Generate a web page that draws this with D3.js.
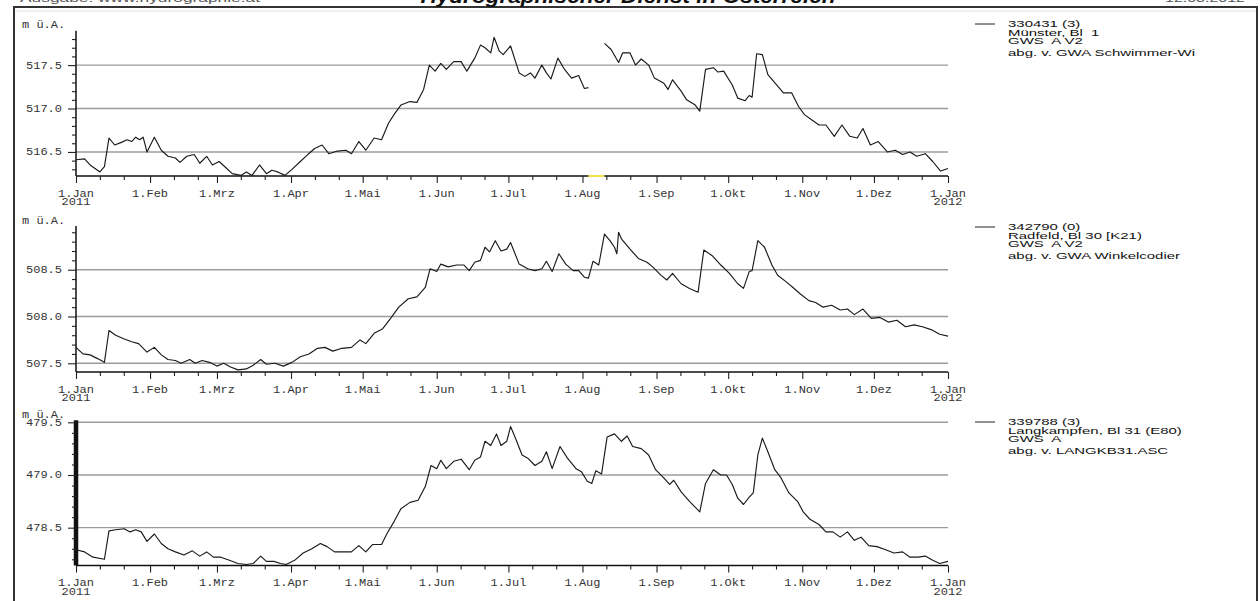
<!DOCTYPE html>
<html>
<head>
<meta charset="utf-8">
<script src="https://cdn.jsdelivr.net/npm/d3@7/dist/d3.min.js"></script>
<style>
  body { margin: 0; background: #fff; }
  svg { display: block; }
  text { white-space: pre; }
</style>
</head>
<body>
<svg id="chart" width="1260" height="601"></svg>
<script>
// Groundwater levels 2011 (m ü.A.), three wells; day = days since 1 Jan 2011
const monthLabels = ["1.Jan", "1.Feb", "1.Mrz", "1.Apr", "1.Mai", "1.Jun", "1.Jul",
                     "1.Aug", "1.Sep", "1.Okt", "1.Nov", "1.Dez", "1.Jan"];
const startYearLabel = "2011";
const endYearLabel = "2012";
const unitLabel = "m ü.A.";

const muensterLegend = ["330431 (3)", "Münster, Bl  1", "GWS  A V2", "abg. v. GWA Schwimmer-Wi"];
const muensterDays = [0,3.6,5.9,10,11.9,13.8,16.2,19,21.4,23.3,25,26.6,28.1,29.7,32.8,35.7,38.5,41.6,43.5,46.4,49.5,51.8,54.7,57.1,59.9,62.3,65.4,69,71.3,73.7,76.8,79.7,82,84.4,87.5,90.4,93.9,97,99.9,103,105.8,109.4,113,115.3,118.4,121.3,124.8,127.9,130.8,133.6,136,139.8,142.7,145.5,147.9,150.3,152.7,155,158.1,161.2,163.6,166.9,169.3,171.2,173.6,175,177.2,178.8,181.9,185.5,187.9,190.2,192.1,195,196.9,198.8,201.7,204.5,207.4,210.4,212.8,214.5,218,221.2,224,227.1,228.8,231.9,234.2,236.6,239.7,242.1,246.1,247.8,249.7,253.3,255.6,259.2,261.1,263.5,266.8,268.7,271.1,274.7,277,280.1,281.8,283,284.9,287.3,289.6,293,296.1,299.6,302.5,304.9,307.9,311,313.9,317.4,320.6,323.9,327,329.4,332.5,335.8,339.6,342.9,346,349.1,351.9,355.5,358.6,361.9,365];
const muensterLevels = [516.41,516.42,516.35,516.27,516.33,516.66,516.58,516.61,516.64,516.62,516.67,516.64,516.67,516.50,516.67,516.52,516.45,516.43,516.38,516.45,516.47,516.37,516.45,516.35,516.39,516.33,516.25,516.23,516.27,516.23,516.35,516.25,516.29,516.27,516.23,516.30,516.39,516.47,516.54,516.58,516.48,516.51,516.52,516.48,516.62,516.52,516.66,516.64,516.83,516.95,517.04,517.08,517.07,517.22,517.50,517.43,517.52,517.45,517.54,517.54,517.43,517.58,517.73,517.70,517.64,517.82,517.66,517.62,517.72,517.41,517.37,517.41,517.35,517.50,517.41,517.34,517.58,517.45,517.35,517.38,517.23,517.24,null,517.75,517.68,517.53,517.64,517.64,517.50,517.57,517.50,517.35,517.29,517.22,517.33,517.20,517.10,517.04,516.97,517.45,517.47,517.42,517.43,517.27,517.12,517.09,517.15,517.13,517.63,517.62,517.39,517.28,517.18,517.18,517.02,516.93,516.87,516.81,516.81,516.68,516.81,516.68,516.66,516.77,516.58,516.62,516.50,516.52,516.47,516.50,516.45,516.48,516.39,516.28,516.31];

const radfeldLegend = ["342790 (0)", "Radfeld, Bl 30 [K21)", "GWS  A V2", "abg. v. GWA Winkelcodier"];
const radfeldDays = [0,2.9,5.9,9,11.9,13.8,16.6,20.2,23.3,26.2,29.7,32.8,35.7,38.5,41.6,44,47.6,49.9,52.8,55.9,59,61.8,64.7,67.8,71.3,74.2,77.3,79.7,83.2,86.8,90.4,93.9,97.5,101.1,104.2,107.5,111.3,115.3,118.9,121.3,124.8,128.4,132,135.1,139.1,142.7,146.2,148.2,151,152.7,155.8,159.3,162.4,164.6,166.9,169.3,171.2,173.1,175.5,177.9,180.3,181.9,185.5,189.1,192.1,195,196.9,199.3,202.1,205,208.1,210.4,212.8,214.5,216.4,218.8,221.2,223.5,225.4,226.4,227.1,228.3,231.9,235.4,239,241.4,244.9,247.3,249.7,253.3,256.8,260.4,262.8,266.3,269.9,273.5,277,279.4,281.8,283,285.4,288.2,291.3,293.7,297.3,300.1,303.2,306.8,309.6,312.7,316.3,319.9,322.9,325.8,329.4,332.9,336.5,340,343.6,347.2,350.8,354.3,357.9,361.5,365];
const radfeldLevels = [507.67,507.60,507.59,507.55,507.51,507.85,507.80,507.76,507.73,507.71,507.62,507.67,507.59,507.54,507.53,507.50,507.54,507.50,507.53,507.51,507.47,507.50,507.46,507.43,507.44,507.48,507.54,507.49,507.50,507.47,507.51,507.57,507.60,507.66,507.67,507.63,507.66,507.67,507.75,507.71,507.82,507.87,507.99,508.10,508.19,508.21,508.31,508.51,508.48,508.56,508.53,508.55,508.55,508.49,508.58,508.60,508.74,508.69,508.81,508.70,508.72,508.79,508.56,508.51,508.49,508.51,508.59,508.48,508.67,508.56,508.49,508.49,508.42,508.41,508.59,508.55,508.88,508.81,508.74,508.67,508.90,508.83,508.72,508.62,508.58,508.53,508.44,508.39,508.46,508.35,508.30,508.26,508.71,508.65,508.55,508.46,508.35,508.30,508.48,508.49,508.81,508.74,508.55,508.44,508.37,508.31,508.24,508.17,508.15,508.10,508.12,508.07,508.08,508.02,508.08,507.98,507.99,507.94,507.96,507.89,507.91,507.89,507.86,507.81,507.79];

const langkampfenLegend = ["339788 (3)", "Langkampfen, Bl 31 (E80)", "GWS  A", "abg. v. LANGKB31.ASC"];
const langkampfenDays = [0,3.6,7.1,11.9,13.8,16.6,20.2,22.6,25,27.3,29.7,32.8,35.7,38.5,41.6,45.2,48.7,51.8,54.7,57.5,60.6,64.2,67.8,71.3,74.2,77.3,79.7,82.8,85.6,88,91.5,95.1,98.7,102.3,105.1,108.2,111.8,115.3,118.4,121.3,124.1,127.9,130.3,133.2,136,139.8,143.2,146.2,148.6,151,152.7,155,158.1,161.2,164.6,166.9,169.3,171.2,173.6,176,177.9,180.3,181.9,184.3,186.7,189.1,192.1,195,196.9,199.3,202.6,205.7,209.3,211.6,214,215.9,217.6,220,222.3,225.4,228.3,230.7,233,236.6,239.7,242.6,246.1,248.5,250.2,253.3,256.8,261.1,263.5,266.8,269.9,272.3,274.7,277,279.4,281.8,283.5,285.4,287.3,289.6,292.5,294.9,298.4,302,304.4,307.2,311,313.9,316.8,319.9,322.9,325.8,328.6,331.8,335.3,338.9,342.4,346,349.1,352.4,355.5,358.6,361.5,365];
const langkampfenLevels = [478.29,478.27,478.22,478.20,478.47,478.48,478.49,478.46,478.48,478.46,478.37,478.44,478.35,478.30,478.27,478.24,478.28,478.23,478.27,478.22,478.22,478.19,478.16,478.15,478.16,478.23,478.18,478.18,478.16,478.15,478.19,478.26,478.30,478.35,478.32,478.27,478.27,478.27,478.33,478.27,478.34,478.34,478.45,478.56,478.68,478.74,478.76,478.89,479.09,479.06,479.14,479.06,479.13,479.15,479.05,479.14,479.17,479.32,479.28,479.39,479.28,479.32,479.46,479.33,479.19,479.16,479.09,479.13,479.22,479.06,479.27,479.16,479.06,479.03,478.94,478.92,479.04,479.01,479.36,479.39,479.32,479.37,479.27,479.25,479.19,479.05,478.97,478.91,478.95,478.84,478.75,478.65,478.92,479.05,479.00,479.00,478.91,478.78,478.72,478.79,478.83,479.19,479.35,479.22,479.05,478.98,478.83,478.75,478.65,478.58,478.53,478.46,478.46,478.41,478.46,478.38,478.41,478.33,478.32,478.29,478.26,478.27,478.22,478.22,478.23,478.19,478.16,478.18];

// ---------------------------------------------------------------------------
const svg = d3.select("#chart");
const MONO = "'Liberation Mono', 'DejaVu Sans Mono', monospace";
const SANS = "'Liberation Sans', Arial, sans-serif";

const t0 = new Date(Date.UTC(2011, 0, 1));
const t1 = new Date(Date.UTC(2012, 0, 1));
const dayToDate = d => new Date(t0.getTime() + d * 864e5);

const x = d3.scaleUtc().domain([t0, t1]).range([76, 948]);

// page frame and cropped print header
svg.append("rect").attr("x", 14).attr("y", 7).attr("width", 1243).attr("height", 610)
  .attr("fill", "none").attr("stroke", "#333").attr("stroke-width", 2);
svg.append("line").attr("x1", 15).attr("x2", 1256).attr("y1", 11).attr("y2", 11)
  .attr("stroke", "#e4e4e4").attr("stroke-width", 1);
svg.append("text").attr("x", 628).attr("y", 3).attr("text-anchor", "middle")
  .attr("font-family", SANS).attr("font-weight", "bold").attr("font-style", "italic")
  .attr("font-size", 20).attr("textLength", 415).attr("lengthAdjust", "spacingAndGlyphs")
  .attr("fill", "#111").text("Hydrographischer Dienst in Österreich");
svg.append("text").attr("x", 20).attr("y", 2).attr("font-family", SANS).attr("font-size", 11)
  .attr("textLength", 240).attr("lengthAdjust", "spacingAndGlyphs").attr("fill", "#555")
  .text("Ausgabe: www.hydrographie.at");
svg.append("text").attr("x", 1245).attr("y", 2).attr("text-anchor", "end").attr("font-family", SANS)
  .attr("font-size", 11).attr("textLength", 80).attr("lengthAdjust", "spacingAndGlyphs")
  .attr("fill", "#555").text("12.03.2012");

const panels = [
  { days: muensterDays, levels: muensterLevels, legend: muensterLegend,
    top: 30.7, bottom: 176, domain: [516.223, 517.896], legendY: 24, heavyAxis: false },
  { days: radfeldDays, levels: radfeldLevels, legend: radfeldLegend,
    top: 226, bottom: 372, domain: [507.407, 508.967], legendY: 227, heavyAxis: false },
  { days: langkampfenDays, levels: langkampfenLevels, legend: langkampfenLegend,
    top: 420.2, bottom: 565.6, domain: [478.14, 479.52], legendY: 422, heavyAxis: true }
];
// vertical offsets of the four legend lines below the first one
const legendLineOffsets = [0, 8.6, 16.6, 29];

panels.forEach(p => {
  const g = svg.append("g");
  const y = d3.scaleLinear().domain(p.domain).range([p.bottom, p.top]);

  const lo = Math.ceil(p.domain[0] * 10 - 1e-6), hi = Math.floor(p.domain[1] * 10 + 1e-6);
  const tenths = d3.range(lo, hi + 1);
  const majors = tenths.filter(k => k % 5 === 0).map(k => k / 10);
  const minors = tenths.filter(k => k % 5 !== 0).map(k => k / 10);

  // horizontal grid lines at labelled levels
  g.append("g").selectAll("line").data(majors).join("line")
    .attr("x1", x.range()[0]).attr("x2", x.range()[1])
    .attr("y1", d => y(d)).attr("y2", d => y(d))
    .attr("stroke", "#9c9c9c").attr("stroke-width", 1.4);

  // y axis: major ticks with labels, minor ticks every 0.1 m
  const yMajor = d3.axisLeft(y).tickValues(majors).tickSize(8).tickFormat("");
  const yMinor = d3.axisLeft(y).tickValues(minors).tickSize(4).tickFormat("");
  const yg = g.append("g").attr("transform", `translate(${x.range()[0]},0)`);
  yg.call(yMajor);
  yg.append("g").call(yMinor).select(".domain").remove();
  yg.selectAll(".tick line").attr("stroke", "#222").attr("stroke-width", 1.1);
  yg.select(".domain").attr("d", `M0,${p.top}V${p.bottom}`)
    .attr("stroke", "#111").attr("stroke-width", p.heavyAxis ? 4.5 : 1.5);

  majors.forEach(v => {
    g.append("text").attr("transform", `translate(62,${y(v) + 3.5}) scale(1.2,1)`)
      .attr("text-anchor", "end").attr("font-family", MONO).attr("font-size", 10)
      .attr("fill", "#333").text(d3.format(".1f")(v));
  });
  g.append("text").attr("transform", `translate(22,${p.top - 2.5}) scale(1.2,1)`)
    .attr("font-family", MONO).attr("font-size", 10).attr("fill", "#333").text(unitLabel);

  // x axis: month ticks with labels, minor ticks on the 11th and 21st
  const months = d3.utcMonth.range(t0, d3.utcDay.offset(t1, 1));
  const minorDates = [];
  months.slice(0, -1).forEach(m => {
    minorDates.push(d3.utcDay.offset(m, 10), d3.utcDay.offset(m, 20));
  });
  const xg = g.append("g").attr("transform", `translate(0,${p.bottom})`);
  xg.call(d3.axisBottom(x).tickValues(months).tickSize(7).tickFormat(""));
  xg.append("g").call(d3.axisBottom(x).tickValues(minorDates).tickSize(4).tickFormat(""))
    .select(".domain").remove();
  xg.selectAll(".tick line").attr("stroke", "#222").attr("stroke-width", 1.1);
  xg.select(".domain").attr("d", `M${x.range()[0]},0H${x.range()[1]}`)
    .attr("stroke", "#111").attr("stroke-width", 1.5);

  months.forEach((m, i) => {
    const lg = g.append("g").attr("transform", `translate(${x(m)},${p.bottom + 20.5}) scale(1.2,1)`)
      .attr("font-family", MONO).attr("font-size", 10).attr("fill", "#333").attr("text-anchor", "middle");
    lg.append("text").text(monthLabels[i]);
    if (i === 0) lg.append("text").attr("y", 8.5).text(startYearLabel);
    if (i === months.length - 1) lg.append("text").attr("y", 8.5).text(endYearLabel);
  });

  // series
  const pts = p.days.map((d, i) => ({ t: dayToDate(d), v: p.levels[i] }));
  const line = d3.line().defined(d => d.v !== null).x(d => x(d.t)).y(d => y(d.v));
  g.append("path").datum(pts).attr("d", line)
    .attr("fill", "none").attr("stroke", "#1a1a1a").attr("stroke-width", 1.15)
    .attr("stroke-linejoin", "round");

  // missing-data stretches flagged in yellow on the time axis
  pts.forEach((d, i) => {
    if (d.v === null && i > 0 && i < pts.length - 1) {
      g.append("line").attr("x1", x(pts[i - 1].t)).attr("x2", x(pts[i + 1].t))
        .attr("y1", p.bottom).attr("y2", p.bottom)
        .attr("stroke", "#f2e24a").attr("stroke-width", 2);
    }
  });

  // legend
  g.append("line").attr("x1", 975).attr("x2", 995).attr("y1", p.legendY).attr("y2", p.legendY)
    .attr("stroke", "#222").attr("stroke-width", 1);
  p.legend.forEach((s, i) => {
    g.append("text").attr("transform", `translate(1008,${p.legendY + 3.4 + legendLineOffsets[i]}) scale(1.56,1)`)
      .attr("font-family", SANS).attr("font-size", 9.6).attr("fill", "#111").text(s);
  });
});
</script>
</body>
</html>
